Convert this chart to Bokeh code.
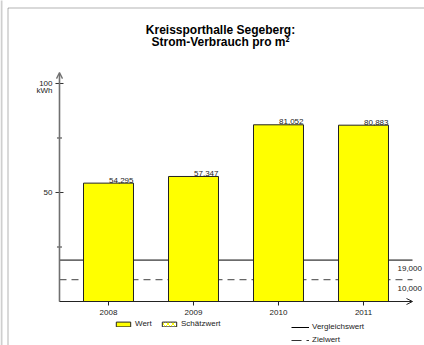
import math
from bokeh.plotting import figure
from bokeh.models import (Range1d, Label, Arrow, OpenHead, Legend, LegendItem, BoxAnnotation)
from bokeh.core.properties import value
from bokeh.embed import file_html
from bokeh.resources import INLINE

# ---- data ----
years = ["2008", "2009", "2010", "2011"]
values = [54.295, 57.347, 81.052, 80.883]
value_labels = ["54,295", "57,347", "81,052", "80,883"]
ref_values = [19.0, 10.0]
ref_labels = ["19,000", "10,000"]
ref_names = ["Vergleichswert", "Zielwert"]
bar_names = ["Wert", "Schätzwert"]
y_ticks = [50, 100]
y_tick_labels = ["50", "100"]
y_minor_ticks = [25, 75]
y_unit = "kWh"
title_lines = ["Kreissporthalle Segeberg:", "Strom-Verbrauch pro m²"]

FONT = "Liberation Sans"
TXT = "#222222"
W, H = 424, 345
NAN = float("nan")

xs = list(range(len(years)))
# axis extents (in data units)
xa, xe = -0.5765, len(years) - 1 + 0.5765
ya, ye = 0, 105

p = figure(width=W, height=H, output_backend="svg", toolbar_location=None,
           x_range=Range1d(-1.27059, 3.71765), y_range=Range1d(-20.183, 138.073),
           x_axis_location=None, y_axis_location=None,
           min_border=0, min_border_left=0, min_border_right=0,
           min_border_top=0, min_border_bottom=0,
           outline_line_color=None, background_fill_color="white", border_fill_color="white")
p.xgrid.visible = False
p.ygrid.visible = False

# reference lines (behind bars)
p.segment(x0=[xa], x1=[xe], y0=[ref_values[0]], y1=[ref_values[0]],
          line_color="black", line_width=1)
p.segment(x0=[xa], x1=[xe], y0=[ref_values[1]], y1=[ref_values[1]],
          line_color="#666666", line_width=1.2, line_dash="7 5")

# x ticks (lower half visible below the bars)
p.scatter(x=xs, y=[0] * len(xs), marker="dash", angle=math.pi / 2, size=8,
          line_color="#222222", line_width=1)

bars = p.vbar(x=xs, top=values, width=0.588,
              fill_color="#FFFF00", line_color="#222222", line_width=1)
# legend-only renderers (no visible data)
est = p.vbar(x=[xs[0]], top=[NAN], width=0.588, fill_color="white", hatch_pattern="x",
             hatch_color="#FFFF00", hatch_scale=5, line_color="#222222", line_width=1)
leg_solid = p.line(x=[NAN, NAN], y=[NAN, NAN], line_color="black", line_width=1)
leg_dash = p.line(x=[NAN, NAN], y=[NAN, NAN], line_color="#333333", line_width=1.2,
                  line_dash="10 5")

# y ticks
p.scatter(x=[xa] * len(y_ticks), y=y_ticks, marker="dash", size=8,
          line_color="#333333", line_width=1)
p.scatter(x=[xa] * len(y_minor_ticks), y=y_minor_ticks, marker="dash", size=5,
          line_color="#333333", line_width=1)

# axis arrows
p.add_layout(Arrow(end=OpenHead(size=6, line_color="#707070", line_width=1.3),
                   x_start=xa, y_start=ya, x_end=xa, y_end=ye,
                   line_color="#707070", line_width=1.6))
p.add_layout(Arrow(end=OpenHead(size=6, line_color="#222222", line_width=1),
                   x_start=xa, y_start=ya, x_end=xe, y_end=ya,
                   line_color="#222222", line_width=1.2))

tkw = dict(text_font=value(FONT), text_font_size="8px", text_color=TXT)
# tick labels
p.text(x=[xa] * len(y_ticks), y=y_ticks, text=y_tick_labels, x_offset=-7,
       text_align="right", text_baseline="middle", **tkw)
p.text(x=[xa], y=[y_ticks[-1]], text=[y_unit], x_offset=-7, y_offset=7.5,
       text_align="right", text_baseline="middle", **tkw)
p.text(x=xs, y=[0] * len(xs), text=years, y_offset=11,
       text_align="center", text_baseline="middle", **tkw)
# value labels
p.text(x=xs, y=values, text=value_labels, x_offset=25, y_offset=-3,
       text_align="right", text_baseline="alphabetic", **tkw)
# reference labels
p.text(x=[xe] * len(ref_values), y=ref_values, text=ref_labels, x_offset=-15, y_offset=8.5,
       text_align="left", text_baseline="alphabetic", **tkw)

# title
for i, line in enumerate(title_lines):
    p.add_layout(Label(x=220, y=316 - 12 * i, x_units="screen", y_units="screen", text=line,
                       text_align="center", text_baseline="alphabetic",
                       text_font=FONT, text_font_size="12px", text_font_style="bold",
                       text_color="black"))

# page edge strip and outer frame
p.add_layout(BoxAnnotation(left=0, right=2, top=400, bottom=-50,
                           left_units="screen", right_units="screen",
                           top_units="screen", bottom_units="screen",
                           fill_color="#cfcfcf", fill_alpha=1, line_color=None))
p.add_layout(BoxAnnotation(left=7.5, right=3000, top=337.5, bottom=-3000,
                           left_units="screen", right_units="screen",
                           top_units="screen", bottom_units="screen",
                           fill_alpha=0, line_color="black", line_width=1))

legA = Legend(items=[LegendItem(label=bar_names[0], renderers=[bars]),
                     LegendItem(label=bar_names[1], renderers=[est])],
              orientation="horizontal", location=(114, 17),
              glyph_width=18, glyph_height=6, label_height=6, label_standoff=3,
              spacing=5, padding=0, margin=0, border_line_color=None,
              background_fill_alpha=0, label_text_font=FONT,
              label_text_font_size="8px", label_text_color=TXT)
legB = Legend(items=[LegendItem(label=ref_names[0], renderers=[leg_solid]),
                     LegendItem(label=ref_names[1], renderers=[leg_dash])],
              orientation="vertical", location=(291, 0.8),
              glyph_width=18, glyph_height=6, label_height=6, label_standoff=3,
              spacing=4, padding=0, margin=0, border_line_color=None,
              background_fill_alpha=0, label_text_font=FONT,
              label_text_font_size="8px", label_text_color=TXT)
p.add_layout(legA)
p.add_layout(legB)

open("out.html", "w").write(file_html(p, INLINE))
